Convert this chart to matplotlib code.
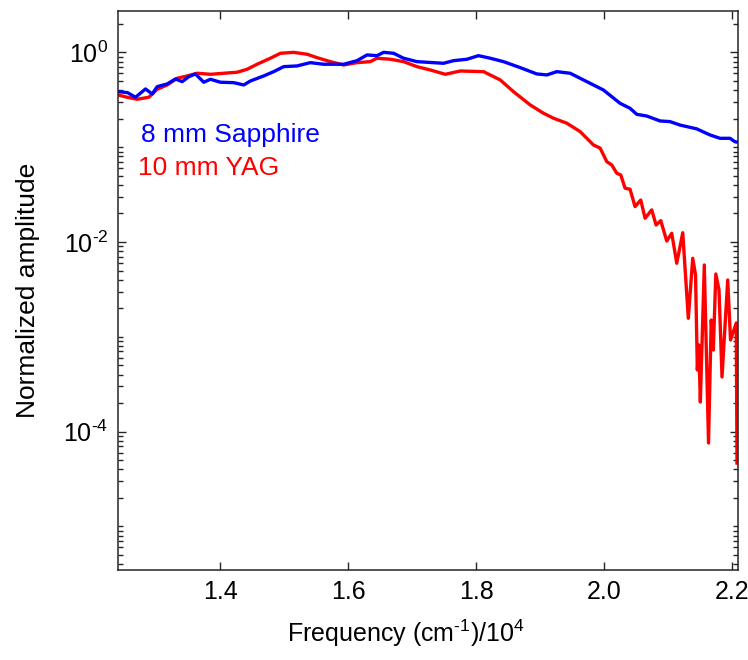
import matplotlib
matplotlib.use("Agg")
import matplotlib.pyplot as plt
import matplotlib.ticker as mticker

# ___ values ___
freq_sapphire = [1.2398, 1.2547, 1.2672, 1.2828, 1.2933, 1.3011, 1.3167, 1.3297, 1.3402, 1.3505,
                 1.3609, 1.3739, 1.3844, 1.4000, 1.4208, 1.4364, 1.4469, 1.4677, 1.4833, 1.4989,
                 1.5198, 1.5406, 1.5614, 1.5927, 1.6136, 1.6292, 1.6448, 1.6552, 1.6708, 1.6864,
                 1.7073, 1.7489, 1.7645, 1.7855, 1.8036, 1.8219, 1.8427, 1.8688, 1.8948, 1.9105,
                 1.9261, 1.9469, 1.9730, 1.9989, 2.0250, 2.0406, 2.0511, 2.0667, 2.0875, 2.1031,
                 2.1188, 2.1448, 2.1656, 2.1813, 2.1969, 2.2047, 2.2094]
amp_sapphire = [0.385, 0.376, 0.336, 0.411, 0.364, 0.435, 0.464, 0.524, 0.491, 0.554,
                0.592, 0.484, 0.520, 0.484, 0.479, 0.453, 0.499, 0.564, 0.626, 0.707,
                0.719, 0.779, 0.749, 0.749, 0.817, 0.939, 0.923, 1.0, 0.978, 0.867,
                0.798, 0.767, 0.817, 0.846, 0.923, 0.867, 0.798, 0.690, 0.592, 0.578,
                0.626, 0.602, 0.491, 0.401, 0.290, 0.257, 0.222, 0.213, 0.189, 0.186,
                0.171, 0.156, 0.1345, 0.124, 0.124, 0.114, 0.113]

freq_yag = [1.2398, 1.2542, 1.2698, 1.2880, 1.3011, 1.3167, 1.3323, 1.3480, 1.3636, 1.3844,
            1.4052, 1.4261, 1.4417, 1.4573, 1.4781, 1.4938, 1.5145, 1.5355, 1.5511, 1.5719,
            1.5927, 1.6136, 1.6344, 1.6448, 1.6656, 1.6864, 1.7073, 1.7281, 1.7516, 1.7750,
            1.8114, 1.8375, 1.8583, 1.8844, 1.9052, 1.9208, 1.9417, 1.9625, 1.9833, 1.9938,
            2.0042, 2.0120, 2.0198, 2.0261, 2.0328, 2.0406, 2.0484, 2.0573, 2.0641, 2.0745,
            2.0813, 2.0886, 2.0980, 2.1058, 2.1136, 2.1230, 2.1317, 2.1386, 2.1430, 2.1458,
            2.1480, 2.1505, 2.1567, 2.1633, 2.1675, 2.1708, 2.1747, 2.1797, 2.1844, 2.1933,
            2.1977, 2.2067, 2.2078]
amp_yag = [0.355, 0.336, 0.320, 0.336, 0.408, 0.453, 0.533, 0.564, 0.602, 0.587,
           0.602, 0.617, 0.663, 0.749, 0.867, 0.978, 1.0, 0.955, 0.879, 0.798,
           0.736, 0.779, 0.798, 0.867, 0.846, 0.798, 0.707, 0.652, 0.587, 0.636,
           0.626, 0.512, 0.385, 0.279, 0.228, 0.202, 0.179, 0.146, 0.1055, 0.0977,
           0.0703, 0.0649, 0.0531, 0.0509, 0.0369, 0.0360, 0.0236, 0.0277, 0.0178, 0.0218,
           0.0151, 0.0168, 0.01024, 0.01235, 0.00596, 0.01253, 0.001567, 0.00673, 0.00449, 0.000447,
           0.000819, 0.000205, 0.00572, 7.58e-5, 0.001504, 0.000726, 0.0046, 0.00312, 0.000377, 0.00397,
           0.000925, 0.0014, 4.66e-5]

x_ticks = [1.4, 1.6, 1.8, 2.0, 2.2]
x_ticklabels = ['1.4', '1.6', '1.8', '2.0', '2.2']
y_ticks = [1e-4, 1e-2, 1e0]
y_ticklabels = [r'10$^{\text{-}4}$', r'10$^{\text{-}2}$', '10$^{0}$']

plt.rcParams['font.family'] = ['Liberation Sans', 'DejaVu Sans']
plt.rcParams['mathtext.fontset'] = 'custom'
plt.rcParams['mathtext.rm'] = 'Liberation Sans'
plt.rcParams['mathtext.it'] = 'Liberation Sans:italic'
plt.rcParams['mathtext.bf'] = 'Liberation Sans:bold'

fig = plt.figure(figsize=(7.48, 6.6), dpi=100)
ax = fig.add_axes([118 / 748, 90 / 660, 620 / 748, 559.3 / 660])

ax.plot(freq_yag, amp_yag, color=(1, 0, 0), lw=2.4, solid_joinstyle='round')
ax.plot(freq_sapphire, amp_sapphire, color=(0, 0, 1), lw=2.4, solid_joinstyle='round')

ax.set_yscale('log')
ax.set_xlim(1.2398, 2.2094)
ax.set_ylim(3.47e-6, 2.75)

ax.set_xticks(x_ticks)
ax.set_xticklabels(x_ticklabels)
ax.xaxis.set_minor_locator(mticker.NullLocator())
ax.yaxis.set_major_locator(mticker.FixedLocator(y_ticks))
ax.yaxis.set_major_formatter(mticker.FixedFormatter(y_ticklabels))
# minor ticks 1..9 in every decade
minor_y = [k * 10.0 ** e for e in range(-6, 1) for k in range(1, 10)]
ax.yaxis.set_minor_locator(mticker.FixedLocator(minor_y))
ax.yaxis.set_minor_formatter(mticker.NullFormatter())

ax.tick_params(which='both', direction='in', top=True, right=True, color='#262626',
               labelsize=18, width=1.0)
ax.tick_params(which='major', length=6, pad=7)
ax.tick_params(which='minor', length=3.5)
for sp in ax.spines.values():
    sp.set_color('#262626')
    sp.set_linewidth(1.1)

ax.set_xlabel(r'Frequency (cm$^{\text{-}1}$)/10$^{4}$', fontsize=18)
ax.set_ylabel('Normalized amplitude', fontsize=19)
ax.xaxis.set_label_coords(0.465, -0.085)
ax.yaxis.set_label_coords(-0.125, 0.5)

ax.text(1.2758, 0.1135, '8 mm Sapphire', color=(0, 0, 1), fontsize=19)
ax.text(1.2710, 0.0509, '10 mm YAG', color=(1, 0, 0), fontsize=19)

fig.savefig('out.png', dpi=100)
